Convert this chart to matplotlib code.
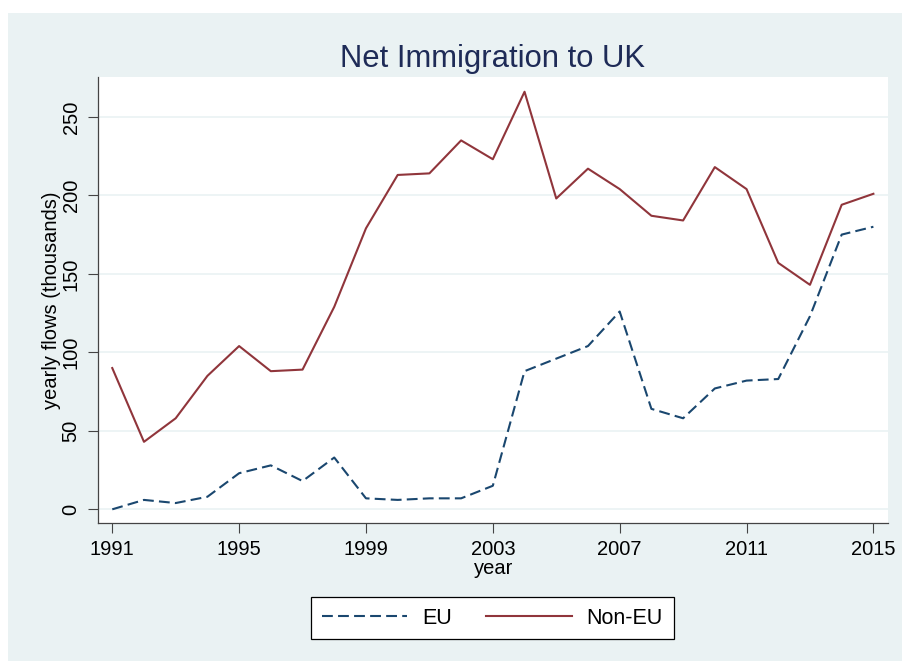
import matplotlib
matplotlib.use("Agg")
import matplotlib.pyplot as plt
from matplotlib.patches import Rectangle

years = list(range(1991, 2016))
eu = [0, 6, 4, 8, 23, 28, 18, 33, 7, 6, 7, 7, 15, 88, 96, 104, 126, 64, 58, 77, 82, 83, 123, 175, 180]
non_eu = [90, 43, 58, 85, 104, 88, 89, 129, 179, 213, 214, 235, 223, 266, 198, 217, 204, 187, 184, 218, 204, 157, 143, 194, 201]
xticks = [1991, 1995, 1999, 2003, 2007, 2011, 2015]
yticks = [0, 50, 100, 150, 200, 250]

plt.rcParams['font.family'] = ['Liberation Sans', 'DejaVu Sans']

W, H = 902, 661
fig = plt.figure(figsize=(W / 100, H / 100), dpi=100, facecolor='white')
bg = '#EAF2F3'
fig.patches.append(Rectangle((8 / W, 0), 1 - 8 / W, 1 - 13 / H, transform=fig.transFigure,
                             facecolor=bg, edgecolor='none', zorder=-10))

ax = fig.add_axes([98.3 / W, 1 - 523.3 / H, (888.3 - 98.3) / W, (523.3 - 77.3) / H])
ax.set_facecolor('white')

ax.plot(years, eu, color='#1A476F', lw=1.5, dashes=(5.2, 2.5), label='EU')
ax.plot(years, non_eu, color='#90353B', lw=1.5, label='Non-EU')

ax.set_xlim(1990.56, 2015.47)
ax.set_ylim(-8.9, 275.2)
ax.set_xticks(xticks)
ax.set_yticks(yticks)
ax.yaxis.grid(True, color=bg, lw=1.2)
ax.set_axisbelow(True)

for s in ['top', 'right']:
    ax.spines[s].set_visible(False)
for s in ['left', 'bottom']:
    ax.spines[s].set_color('#444444')
    ax.spines[s].set_linewidth(0.9)

ax.tick_params(axis='both', direction='out', length=7.2, width=0.8, color='#444444',
               labelsize=14.5, labelcolor='black')
ax.tick_params(axis='x', pad=5)
ax.tick_params(axis='y', pad=5.5)
for lab in ax.get_yticklabels():
    lab.set_rotation(90)
    lab.set_va('center')

ax.set_ylabel('yearly flows (thousands)', fontsize=14.5, color='black')
ax.yaxis.set_label_coords(-0.0475, 0.5)
ax.set_xlabel('year', fontsize=14.5, color='black', labelpad=0)

fig.text(493 / W, 1 - 67 / H, 'Net Immigration to UK', ha='center', va='baseline',
         fontsize=22.3, color='#1E2B57')

leg = fig.legend(loc='center', bbox_to_anchor=(492.5 / W, 1 - 618 / H), ncol=2,
                 fontsize=15.5, frameon=True, fancybox=False, framealpha=1,
                 edgecolor='black', handlelength=3.95, handletextpad=0.7,
                 columnspacing=1.6, borderpad=0.5)
leg.get_frame().set_linewidth(0.9)

fig.savefig('out.png', dpi=100, facecolor='white')
